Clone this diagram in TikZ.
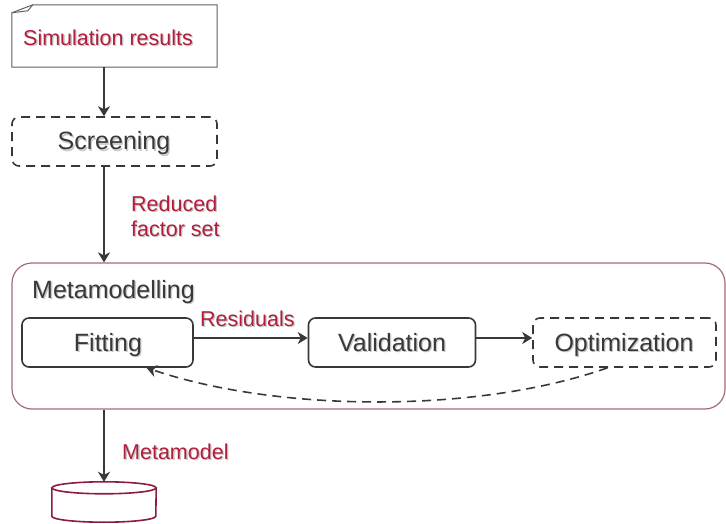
\documentclass[tikz,border=0pt]{standalone}
\usepackage{fontspec}
\setmainfont{Liberation Sans}
\usetikzlibrary{arrows.meta,calc}
\definecolor{ink}{HTML}{383838}
\definecolor{accent}{HTML}{B01E3C}
\definecolor{frame}{HTML}{A56A78}
\definecolor{dbline}{HTML}{8C1C3C}
\definecolor{soft}{HTML}{C8C8C8}
\tikzset{
  big/.style={font=\fontsize{25}{30}\selectfont, text=ink, inner sep=0pt},
  note/.style={font=\fontsize{21.5}{25}\selectfont, text=accent, inner sep=0pt},
  stepbox/.style={draw=ink, line width=1.6pt, rounded corners=7pt, minimum height=49pt, inner sep=0pt},
  dashbox/.style={stepbox, dash pattern=on 9pt off 6pt},
  flow/.style={draw=ink, line width=2.2pt, -{Stealth[length=10pt,width=12pt,inset=3pt]}},
  back/.style={draw=ink, line width=1.6pt, dash pattern=on 9pt off 6pt, -{Stealth[length=10pt,width=12pt,inset=3pt]}},
}
% text with a soft drop shadow: name, position, style, text
\newcommand\shadowtext[4]{%
  \node[#3, text=soft] (#1-sh) at ($#2+(1.3,1.3)$) {#4};
  \node[#3] (#1) at #2 {#4};}
\begin{document}
\begin{tikzpicture}[x=1pt,y=-1pt]
\useasboundingbox (0,0) rectangle (726,524);

% vertical flow line position
\coordinate (ax) at (104,0);

% simulation results document with folded corner
\node[minimum width=205pt, minimum height=62pt, inner sep=0pt] (sim) at (114.5,36) {};
\draw[draw=ink!80, line width=1pt, fill=white]
  ($(sim.north west)+(0,8)$) -- ($(sim.north west)+(21,0)$) -- (sim.north east)
  -- (sim.south east) -- (sim.south west) -- cycle;
\draw[draw=ink!80, line width=1pt]
  ($(sim.north west)+(0,8)$) -- ($(sim.north west)+(16,6)$) -- ($(sim.north west)+(21,0)$);
\shadowtext{simtxt}{(23,45.5)}{note, anchor=base west}{Simulation results}

% screening
\node[dashbox, minimum width=205pt] (scr) at (114.5,141.5) {};
\shadowtext{scrtxt}{(114,150)}{big, anchor=base}{Screening}

% metamodelling frame
\node[draw=frame, line width=1.2pt, rounded corners=20pt, minimum width=713pt, minimum height=146pt, inner sep=0pt] (meta) at (368.5,336) {};
\shadowtext{metatxt}{(32,298)}{big, anchor=base west}{Metamodelling}

\node[stepbox, minimum width=171pt] (fit) at (107.5,342.5) {};
\shadowtext{fittxt}{(108,351)}{big, anchor=base}{Fitting}
\node[stepbox, minimum width=167pt] (val) at (392,342.5) {};
\shadowtext{valtxt}{(392,351)}{big, anchor=base}{Validation}
\node[dashbox, minimum width=183pt] (opt) at (624.5,342.5) {};
\shadowtext{opttxt}{(624,351.5)}{big, anchor=base}{Optimization}

% database
\node[minimum width=104pt, minimum height=40pt, inner sep=0pt] (db) at (104,502) {};
\draw[draw=dbline, line width=1.6pt, fill=white]
  ($(db.north west)+(0,6)$) -- ($(db.south west)+(0,-6)$)
  arc[start angle=180, end angle=360, x radius=52pt, y radius=6pt]
  -- ($(db.north east)+(0,6)$);
\draw[draw=dbline, line width=1.6pt]
  ($(db.north)+(0,6)$) ellipse[x radius=52pt, y radius=6pt];

% labels
\shadowtext{redlbl}{(131,195.5)}{note, anchor=north west, align=left}{Reduced\\factor set}
\shadowtext{reslbl}{(200,326.5)}{note, anchor=base west}{Residuals}
\shadowtext{mmlbl}{(122,459)}{note, anchor=base west}{Metamodel}

% connectors
\draw[flow] (sim.south -| ax) -- (scr.north -| ax);
\draw[flow] (scr.south -| ax) -- (meta.north -| ax);
\draw[flow] (meta.south -| ax) -- (db.north -| ax);
\draw[flow, line width=1.8pt] ($(fit.east)+(0,-4.5)$) -- ($(val.west)+(0,-4.5)$);
\draw[flow, line width=1.8pt] ($(val.east)+(0,-4.5)$) -- ($(opt.west)+(0,-4.5)$);
\draw[back] ($(opt.south)+(-17,0)$) .. controls (480,413) and (280,413) .. ($(fit.south)+(39,0)$);
\end{tikzpicture}
\end{document}
